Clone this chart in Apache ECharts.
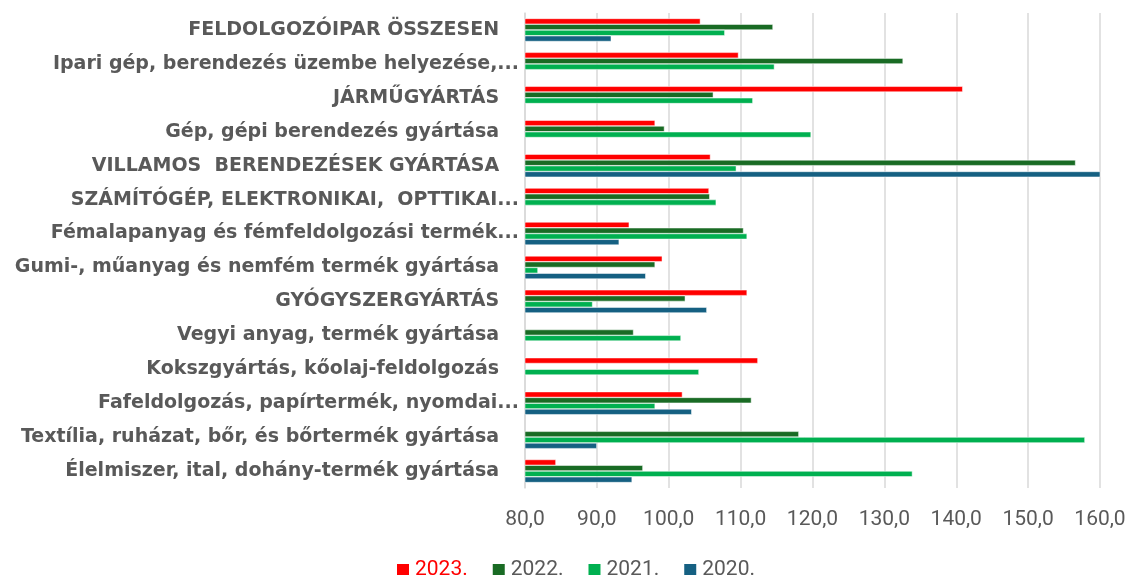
<!DOCTYPE html>
<html>
<head>
<meta charset="utf-8">
<script src="https://cdn.jsdelivr.net/npm/echarts@6/dist/echarts.min.js"></script>
<style>
  html, body { margin: 0; padding: 0; background: #fff; }
  #chart { width: 1141px; height: 579px; }
</style>
</head>
<body>
<div id="chart"></div>
<script>
  // ágazatok, felülről lefelé
  var categories = [
    'FELDOLGOZÓIPAR ÖSSZESEN',
    'Ipari gép, berendezés üzembe helyezése,...',
    'JÁRMŰGYÁRTÁS',
    'Gép, gépi berendezés gyártása',
    'VILLAMOS  BERENDEZÉSEK GYÁRTÁSA',
    'SZÁMÍTÓGÉP, ELEKTRONIKAI,  OPTTIKAI...',
    'Fémalapanyag és fémfeldolgozási termék...',
    'Gumi-, műanyag és nemfém termék gyártása',
    'GYÓGYSZERGYÁRTÁS',
    'Vegyi anyag, termék gyártása',
    'Kokszgyártás, kőolaj-feldolgozás',
    'Fafeldolgozás, papírtermék, nyomdai...',
    'Textília, ruházat, bőr, és bőrtermék gyártása',
    'Élelmiszer, ital, dohány-termék gyártása'
  ];
  var xTicks = [80, 90, 100, 110, 120, 130, 140, 150, 160];

  var y2023 = [104.4, 109.7, 140.9, 98.1, 105.8, 105.6, 94.5, 99.1, 110.9, null, 112.4, 101.9, null, 84.3];
  var y2022 = [114.5, 132.6, 106.2, 99.4, 156.6, 105.7, 110.4, 98.1, 102.3, 95.1, null, 111.5, 118.1, 96.4];
  var y2021 = [107.8, 114.7, 111.7, 119.8, 109.4, 106.6, 110.9, 81.8, 89.4, 101.7, 104.2, 98.1, 157.9, 133.9];
  var y2020 = [92.0, null, null, null, 160.3, null, 93.1, 96.8, 105.3, null, null, 103.2, 90.0, 94.9];

  var chart = echarts.init(document.getElementById('chart'));

  function bar(name, color, data) {
    return {
      name: name,
      type: 'bar',
      data: data,
      barGap: '0%',
      barCategoryGap: '32%',
      itemStyle: { color: color, borderColor: '#ffffff', borderWidth: 0.5 }
    };
  }

  chart.setOption({
    animation: false,
    grid: { left: 525, right: 41, top: 13, bottom: 91 },
    legend: {
      top: 554,
      left: 390,
      itemWidth: 14,
      itemHeight: 13,
      itemGap: 23,
      icon: 'rect',
      textStyle: { fontFamily: 'Roboto', fontSize: 21, color: '#595959' },
      data: [
        { name: '2023.', textStyle: { color: '#ff0000' } },
        '2022.', '2021.', '2020.'
      ]
    },
    xAxis: {
      type: 'value',
      min: xTicks[0],
      max: xTicks[xTicks.length - 1],
      interval: 10,
      axisLine: { show: false },
      axisTick: { show: false },
      splitLine: { lineStyle: { color: '#d9d9d9', width: 1.5 } },
      axisLabel: {
        margin: 21,
        fontFamily: 'Roboto',
        fontSize: 21,
        color: '#595959',
        formatter: function (v) { return v.toFixed(1).replace('.', ','); }
      }
    },
    yAxis: {
      type: 'category',
      inverse: true,
      data: categories,
      axisTick: { show: false },
      axisLine: { lineStyle: { color: '#d9d9d9', width: 1.5 } },
      axisLabel: {
        margin: 6,
        fontFamily: 'DejaVu Sans',
        fontWeight: 'bold',
        fontSize: 19,
        color: '#595959',
        formatter: function (v) {
          return v.slice(-3) === '...' ? v : v + '   ';
        }
      }
    },
    series: [
      bar('2023.', '#ff0000', y2023),
      bar('2022.', '#196b24', y2022),
      bar('2021.', '#00b050', y2021),
      bar('2020.', '#156082', y2020)
    ]
  });
</script>
</body>
</html>
